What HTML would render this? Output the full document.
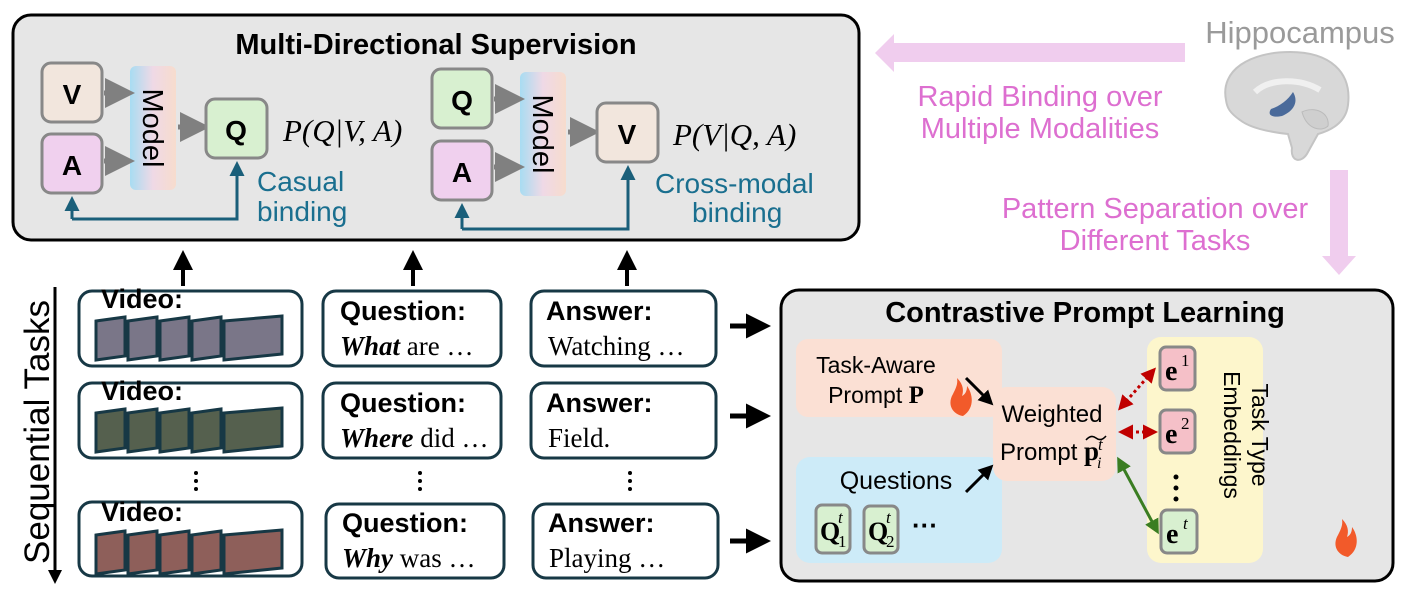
<!DOCTYPE html>
<html><head><meta charset="utf-8"><style>
html,body{margin:0;padding:0;background:#fff}
svg{display:block}
text{font-family:"Liberation Sans",sans-serif}
.b{font-weight:bold}
text.s,tspan.s{font-family:"Liberation Serif",serif}
</style></head><body>
<svg width="1412" height="594" viewBox="0 0 1412 594" xmlns="http://www.w3.org/2000/svg">
<defs>
<linearGradient id="mg" x1="0" x2="1" y1="0" y2="0"><stop offset="0" stop-color="#a8dcf2"/><stop offset="0.5" stop-color="#efd9e6"/><stop offset="1" stop-color="#f7dccd"/></linearGradient>
<marker id="ga" markerWidth="6" markerHeight="6" refX="3" refY="3" orient="auto"><path d="M0,0L6,3L0,6z" fill="#808080"/></marker>
<marker id="ba" markerWidth="5" markerHeight="5" refX="2" refY="2.5" orient="auto"><path d="M0,0L5,2.5L0,5z" fill="#1a5f7a"/></marker>
<marker id="ka" markerWidth="5" markerHeight="5" refX="2" refY="2.5" orient="auto"><path d="M0,0L5,2.5L0,5z" fill="#000"/></marker>
<marker id="ra" markerWidth="5" markerHeight="5" refX="3" refY="2.5" orient="auto-start-reverse"><path d="M0,0L5,2.5L0,5z" fill="#c00000"/></marker>
<marker id="gr" markerWidth="5" markerHeight="5" refX="3" refY="2.5" orient="auto-start-reverse"><path d="M0,0L5,2.5L0,5z" fill="#3a7d22"/></marker>
</defs>

<!-- Top box -->
<rect x="13" y="15" width="846" height="225" rx="18" fill="#e6e6e6" stroke="#000" stroke-width="3"/>
<text x="436" y="54" text-anchor="middle" class="b" font-size="29">Multi-Directional Supervision</text>

<rect x="42" y="63" width="60" height="59" rx="9" fill="#f2e6dd" stroke="#888" stroke-width="3"/>
<text x="72" y="104" text-anchor="middle" class="b" font-size="28">V</text>
<rect x="42" y="134" width="60" height="59" rx="9" fill="#f0d0ee" stroke="#888" stroke-width="3"/>
<text x="72" y="175" text-anchor="middle" class="b" font-size="28">A</text>
<rect x="130" y="66" width="46" height="124" rx="6" fill="url(#mg)"/>
<text transform="translate(143,128) rotate(90)" text-anchor="middle" font-size="29">Model</text>
<line x1="104" y1="93" x2="120" y2="93" stroke="#808080" stroke-width="5" marker-end="url(#ga)"/>
<line x1="104" y1="161" x2="120" y2="161" stroke="#808080" stroke-width="5" marker-end="url(#ga)"/>
<line x1="178" y1="127" x2="195" y2="127" stroke="#808080" stroke-width="5" marker-end="url(#ga)"/>
<rect x="206" y="99" width="61" height="59" rx="9" fill="#d8f0d0" stroke="#888" stroke-width="3"/>
<text x="236" y="140" text-anchor="middle" class="b" font-size="28">Q</text>
<text x="283" y="141" class="s" font-style="italic" font-size="31">P(Q|V, A)</text>
<path d="M72,219 L237,219 L237,170" fill="none" stroke="#1a5f7a" stroke-width="3" marker-end="url(#ba)"/>
<line x1="72" y1="219" x2="72" y2="205" stroke="#1a5f7a" stroke-width="3" marker-end="url(#ba)"/>
<text x="257" y="191" font-size="28" fill="#1a6f8f">Casual</text>
<text x="257" y="221" font-size="28" fill="#1a6f8f">binding</text>

<rect x="432" y="69" width="60" height="59" rx="9" fill="#d8f0d0" stroke="#888" stroke-width="3"/>
<text x="462" y="110" text-anchor="middle" class="b" font-size="28">Q</text>
<rect x="432" y="141" width="60" height="59" rx="9" fill="#f0d0ee" stroke="#888" stroke-width="3"/>
<text x="462" y="182" text-anchor="middle" class="b" font-size="28">A</text>
<rect x="520" y="72" width="46" height="124" rx="6" fill="url(#mg)"/>
<text transform="translate(533,134) rotate(90)" text-anchor="middle" font-size="29">Model</text>
<line x1="494" y1="99" x2="510" y2="99" stroke="#808080" stroke-width="5" marker-end="url(#ga)"/>
<line x1="494" y1="167" x2="510" y2="167" stroke="#808080" stroke-width="5" marker-end="url(#ga)"/>
<line x1="568" y1="132" x2="585" y2="132" stroke="#808080" stroke-width="5" marker-end="url(#ga)"/>
<rect x="597" y="103" width="61" height="59" rx="9" fill="#f2e6dd" stroke="#888" stroke-width="3"/>
<text x="627" y="144" text-anchor="middle" class="b" font-size="28">V</text>
<text x="673" y="145" class="s" font-style="italic" font-size="31">P(V|Q, A)</text>
<path d="M462,229 L628,229 L628,174" fill="none" stroke="#1a5f7a" stroke-width="3" marker-end="url(#ba)"/>
<line x1="462" y1="229" x2="462" y2="212" stroke="#1a5f7a" stroke-width="3" marker-end="url(#ba)"/>
<text x="655" y="193" font-size="28" fill="#1a6f8f">Cross-modal</text>
<text x="692" y="222" font-size="28" fill="#1a6f8f">binding</text>

<!-- up arrows -->
<line x1="183" y1="286" x2="183" y2="262" stroke="#000" stroke-width="4" marker-end="url(#ka)"/>
<line x1="413" y1="286" x2="413" y2="262" stroke="#000" stroke-width="4" marker-end="url(#ka)"/>
<line x1="627" y1="286" x2="627" y2="262" stroke="#000" stroke-width="4" marker-end="url(#ka)"/>

<!-- hippocampus -->
<path d="M1185,43 L894,43 L894,34 L875,53 L894,72 L894,62 L1185,62z" fill="#f0cdee"/>
<text x="1300" y="43" text-anchor="middle" font-size="31" fill="#9a9a9a">Hippocampus</text>
<g>
<path d="M1226,100 C1220,70 1250,52 1290,52 C1330,52 1352,72 1348,105 C1346,122 1332,130 1318,134 L1308,152 C1302,164 1290,162 1292,148 L1288,134 C1270,132 1250,128 1240,120 C1230,113 1227,108 1226,100z" fill="#d8d8d8" stroke="#c4c4c4" stroke-width="2"/>
<path d="M1255,92 C1270,78 1300,78 1320,90" fill="none" stroke="#f0f0f0" stroke-width="6"/>
<path d="M1293,92 C1298,100 1296,110 1282,116 C1272,118 1267,115 1271,109 C1280,106 1288,100 1293,92z" fill="#4a6a9a"/>
<path d="M1302,112 C1314,106 1330,112 1328,126 C1322,132 1307,130 1302,112z" fill="#cfcfcf" stroke="#bbb"/>
</g>
<text x="1040" y="106" text-anchor="middle" font-size="29" fill="#dd6fd0">Rapid Binding over</text>
<text x="1040" y="138" text-anchor="middle" font-size="29" fill="#dd6fd0">Multiple Modalities</text>
<path d="M1330,170 L1348,170 L1348,256 L1356,256 L1339,275 L1322,256 L1330,256z" fill="#f0cdee"/>
<text x="1155" y="218" text-anchor="middle" font-size="29" fill="#dd6fd0">Pattern Separation over</text>
<text x="1155" y="250" text-anchor="middle" font-size="29" fill="#dd6fd0">Different Tasks</text>

<!-- sequential tasks -->
<line x1="55" y1="287" x2="55" y2="572" stroke="#000" stroke-width="3"/>
<path d="M48,570 L62,570 L55,584z" fill="#000"/>
<text transform="translate(49,432) rotate(-90)" text-anchor="middle" font-size="35">Sequential Tasks</text>

<g stroke="#173845" stroke-width="3" fill="#fff">
<rect x="79" y="291" width="223" height="75" rx="13"/>
<rect x="79" y="383" width="223" height="75" rx="13"/>
<rect x="79" y="502" width="223" height="74" rx="13"/>
<rect x="323" y="291" width="178" height="75" rx="13"/>
<rect x="323" y="383" width="178" height="75" rx="13"/>
<rect x="326" y="504" width="178" height="74" rx="13"/>
<rect x="531" y="291" width="185" height="75" rx="13"/>
<rect x="531" y="383" width="185" height="75" rx="13"/>
<rect x="533" y="504" width="185" height="74" rx="13"/>
</g>
<text x="101" y="308" class="b" font-size="27">Video:</text>
<text x="101" y="400" class="b" font-size="27">Video:</text>
<text x="101" y="521" class="b" font-size="27">Video:</text>
<text x="340" y="320" class="b" font-size="27">Question:</text>
<text x="340" y="412" class="b" font-size="27">Question:</text>
<text x="342" y="532" class="b" font-size="27">Question:</text>
<text x="546" y="320" class="b" font-size="27">Answer:</text>
<text x="546" y="412" class="b" font-size="27">Answer:</text>
<text x="548" y="532" class="b" font-size="27">Answer:</text>
<text x="340" y="355" class="s" font-size="27"><tspan font-weight="bold" font-style="italic">What</tspan> are …</text>
<text x="340" y="447" class="s" font-size="27"><tspan font-weight="bold" font-style="italic">Where</tspan> did …</text>
<text x="342" y="567" class="s" font-size="27"><tspan font-weight="bold" font-style="italic">Why</tspan> was …</text>
<text x="548" y="355" class="s" font-size="27">Watching …</text>
<text x="548" y="447" class="s" font-size="27">Field.</text>
<text x="549" y="567" class="s" font-size="27">Playing …</text>
<!-- film strips -->
<g stroke="#173845" stroke-width="3">
<g fill="#7a7688"><path d="M96,321 L125,317 L125,356 L96,360z"/><path d="M128,321 L157,317 L157,356 L128,360z"/><path d="M160,321 L189,317 L189,356 L160,360z"/><path d="M192,321 L221,317 L221,356 L192,360z"/><path d="M224,321 L282,316 L282,354 L224,360z"/></g>
<g fill="#55604e"><path d="M96,413 L125,409 L125,448 L96,452z"/><path d="M128,413 L157,409 L157,448 L128,452z"/><path d="M160,413 L189,409 L189,448 L160,452z"/><path d="M192,413 L221,409 L221,448 L192,452z"/><path d="M224,413 L282,408 L282,446 L224,452z"/></g>
<g fill="#8e5f5a"><path d="M96,535 L125,531 L125,570 L96,574z"/><path d="M128,535 L157,531 L157,570 L128,574z"/><path d="M160,535 L189,531 L189,570 L160,574z"/><path d="M192,535 L221,531 L221,570 L192,574z"/><path d="M224,535 L282,530 L282,568 L224,574z"/></g>
</g>
<g fill="#000">
<circle cx="196" cy="473" r="2"/><circle cx="196" cy="481" r="2"/><circle cx="196" cy="489" r="2"/>
<circle cx="420" cy="473" r="2"/><circle cx="420" cy="481" r="2"/><circle cx="420" cy="489" r="2"/>
<circle cx="630" cy="473" r="2"/><circle cx="630" cy="481" r="2"/><circle cx="630" cy="489" r="2"/>
</g>
<line x1="730" y1="326" x2="756" y2="326" stroke="#000" stroke-width="5" marker-end="url(#ka)"/>
<line x1="730" y1="416" x2="756" y2="416" stroke="#000" stroke-width="5" marker-end="url(#ka)"/>
<line x1="730" y1="541" x2="756" y2="541" stroke="#000" stroke-width="5" marker-end="url(#ka)"/>

<!-- contrastive -->
<rect x="781" y="290" width="612" height="291" rx="18" fill="#e6e6e6" stroke="#000" stroke-width="3"/>
<text x="1085" y="322" text-anchor="middle" class="b" font-size="29">Contrastive Prompt Learning</text>
<rect x="796" y="339" width="206" height="78" rx="12" fill="#fbe0d4"/>
<text x="876" y="373" text-anchor="middle" font-size="23">Task-Aware</text>
<text x="876" y="403" text-anchor="middle" font-size="23">Prompt <tspan class="s" font-weight="bold" font-size="25">P</tspan></text>
<path d="M963,416 C952,414 947,404 953,394 C956,388 958,384 957,378 C963,384 964,390 962,396 C966,394 967,390 967,386 C973,394 975,408 963,416z" fill="#f25a2a"/>
<rect x="796" y="457" width="206" height="106" rx="14" fill="#cdebf8"/>
<text x="896" y="489" text-anchor="middle" font-size="25">Questions</text>
<rect x="816" y="505" width="34" height="48" rx="6" fill="#d8f0d0" stroke="#888" stroke-width="3"/>
<rect x="864" y="506" width="34" height="47" rx="6" fill="#d8f0d0" stroke="#888" stroke-width="3"/>
<text x="820" y="540" class="s b" font-size="26">Q</text><text x="838" y="523" class="s" font-style="italic" font-size="17">t</text><text x="838" y="547" class="s" font-size="17">1</text>
<text x="868" y="540" class="s b" font-size="26">Q</text><text x="886" y="523" class="s" font-style="italic" font-size="17">t</text><text x="886" y="547" class="s" font-size="17">2</text>
<text x="912" y="534" font-size="26" class="b">···</text>
<rect x="993" y="387" width="123" height="94" rx="14" fill="#fbe0d4"/>
<text x="1052" y="422" text-anchor="middle" font-size="24">Weighted</text>
<text x="1000" y="460" font-size="24">Prompt <tspan class="s" font-weight="bold" font-size="27">p</tspan></text>
<path d="M1086,440 q5,-6 10,-2 t10,-2" fill="none" stroke="#000" stroke-width="1.5"/>
<text x="1098" y="450" class="s" font-style="italic" font-size="17">t</text>
<text x="1097" y="468" class="s" font-style="italic" font-size="16">i</text>
<line x1="966" y1="378" x2="987" y2="399" stroke="#000" stroke-width="3" marker-end="url(#ka)"/>
<line x1="966" y1="492" x2="987" y2="471" stroke="#000" stroke-width="3" marker-end="url(#ka)"/>
<rect x="1147" y="337" width="116" height="226" rx="14" fill="#fdf6cc"/>
<rect x="1160" y="347" width="35" height="43" rx="6" fill="#f5c0c8" stroke="#888" stroke-width="3"/>
<text x="1165" y="380" class="s b" font-size="28">e</text><text x="1181" y="366" class="s" font-size="17">1</text>
<rect x="1160" y="410" width="35" height="43" rx="6" fill="#f5c0c8" stroke="#888" stroke-width="3"/>
<text x="1165" y="443" class="s b" font-size="28">e</text><text x="1181" y="429" class="s" font-size="17">2</text>
<rect x="1161" y="510" width="36" height="43" rx="6" fill="#d8f0d0" stroke="#888" stroke-width="3"/>
<text x="1166" y="543" class="s b" font-size="28">e</text><text x="1183" y="529" class="s" font-style="italic" font-size="17">t</text>
<g fill="#000"><circle cx="1176" cy="477" r="2.5"/><circle cx="1176" cy="488" r="2.5"/><circle cx="1176" cy="499" r="2.5"/></g>
<text transform="translate(1252,435) rotate(90)" text-anchor="middle" font-size="23">Task Type</text>
<text transform="translate(1224,435) rotate(90)" text-anchor="middle" font-size="23">Embeddings</text>
<path d="M1348,557 C1337,555 1332,545 1338,535 C1341,529 1343,525 1342,519 C1348,525 1349,531 1347,537 C1351,535 1352,531 1352,527 C1358,535 1360,549 1348,557z" fill="#f25a2a"/>
<line x1="1122" y1="406" x2="1152" y2="372" stroke="#c00000" stroke-width="3" stroke-dasharray="3,3" marker-start="url(#ra)" marker-end="url(#ra)"/>
<line x1="1124" y1="432" x2="1152" y2="432" stroke="#c00000" stroke-width="3" stroke-dasharray="3,3" marker-start="url(#ra)" marker-end="url(#ra)"/>
<line x1="1120" y1="462" x2="1156" y2="529" stroke="#3a7d22" stroke-width="3" marker-start="url(#gr)" marker-end="url(#gr)"/>
</svg>
</body></html>
